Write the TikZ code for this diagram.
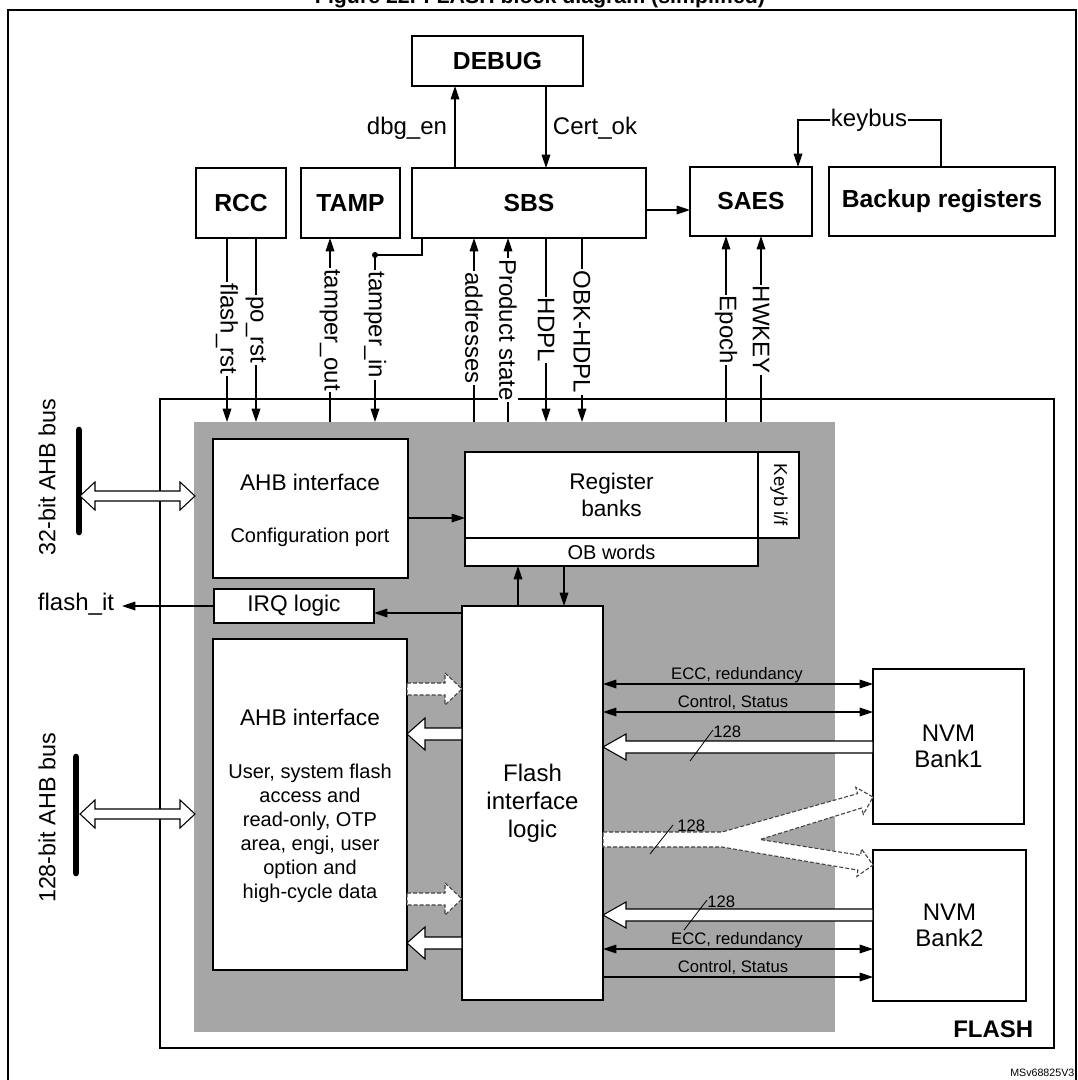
\documentclass[tikz,border=0pt]{standalone}
\usepackage{fontspec}
\setmainfont{Liberation Sans}
\usetikzlibrary{arrows.meta}
\newcommand\fs[1]{\fontsize{#1}{#1}\selectfont}
\newcommand\bx[7]{\node[box,minimum width={(#4-#2)*0.75pt},minimum height={(#5-#3)*0.75pt},#6] (#1) at ({(#2+#4)/2},{(#3+#5)/2}) {#7};}
% hollow horizontal arrow: opts, xtail, xtip, y, halfshaft, halfhead, headlen
\newcommand\HA[7]{\pgfmathsetmacro\hb{#3-#7*sign(#3-#2)}%
 \draw[harrow,#1] (#2,#4-#5) -- (\hb,#4-#5) -- (\hb,#4-#6) -- (#3,#4) -- (\hb,#4+#6) -- (\hb,#4+#5) -- (#2,#4+#5) -- cycle;}
\newcommand\DA[3]{\draw[harrow] (#1,#3) -- (#1+15,#3-14) -- (#1+15,#3-5) -- (#2-15,#3-5) -- (#2-15,#3-14) -- (#2,#3) -- (#2-15,#3+14) -- (#2-15,#3+5) -- (#1+15,#3+5) -- (#1+15,#3+14) -- cycle;}
\begin{document}
\begin{tikzpicture}[x=0.75pt,y=-0.75pt,
 box/.style={draw,line width=1.1pt,fill=white,inner sep=0,outer sep=0,align=center},
 arr/.style={line width=0.9pt,-{Triangle[length=10pt,width=6.5pt]}},
 darr/.style={line width=0.9pt,{Triangle[length=10pt,width=6.5pt]}-{Triangle[length=10pt,width=6.5pt]}},
 harrow/.style={draw,line width=0.8pt,fill=white,line join=miter},
 dsh/.style={dashed,draw=black!75,dash pattern=on 3pt off 1.5pt},
 sig/.style={fill=white,inner sep=1pt,rotate=-90,font=\fs{18}},
 lbl/.style={inner sep=1pt,font=\fs{17}},
 small/.style={inner sep=0pt,font=\fs{12.5}},
 bold/.style={font=\fs{18.5}\bfseries}]
\clip (0,0) rectangle (1077,1080);
\node[anchor=base,font=\fs{16}\bfseries] (title) at (540,4) {Figure 22. FLASH block diagram (simplified)};
\draw[line width=1.2pt] (8,1090) -- (8,10) -- (1076,10) -- (1076,1090);
% FLASH frame and grey area
\bx{flash}{160}{399}{1054}{1048}{}{}
\node[fill=black!35,minimum width={641*0.75pt},minimum height={610*0.75pt},inner sep=0,outer sep=0] (grey) at (514.5,727) {};
\node[anchor=base east,font=\fs{18}\bfseries] (flashlbl) at (1038,1037) {FLASH};
\node[anchor=base east,font=\fs{8}] (msv) at (1079,1076) {MSv68825V3};
% top blocks
\bx{debug}{412}{36}{583}{86}{bold}{DEBUG}
\bx{rcc}{196}{168}{286}{238}{bold}{RCC}
\bx{tamp}{301}{168}{400}{238}{bold}{TAMP}
\bx{sbs}{412}{168}{646}{238}{bold}{SBS}
\bx{saes}{690}{167}{812}{236}{bold}{SAES}
\bx{bkp}{829}{167}{1055}{236}{bold}{Backup registers}
% inside blocks
\bx{ahb1}{213}{439}{408}{578}{}{}
\node[lbl] (ahb1t) at (310,482) {AHB interface};
\node[lbl,font=\fs{15}] (ahb1c) at (310,537) {Configuration port};
\bx{reg}{465}{452}{758}{538}{font=\fontsize{17}{20}\selectfont}{Register\\banks}
\bx{ob}{465}{538}{758}{566}{font=\fs{15}}{OB words}
\bx{keyb}{758}{452}{799}{538}{}{}
\node[rotate=-90,font=\fs{14}] (keybt) at (779,495) {Keyb i/f};
\bx{irq}{214}{589}{374}{623}{font=\fs{17}}{IRQ logic}
\bx{ahb2}{213}{639}{407}{970}{}{}
\node[lbl] (ahb2t) at (310,717) {AHB interface};
\node[align=center,font=\fontsize{15}{18}\selectfont] (ahb2b) at (310,833) {User, system flash\\access and\\read-only, OTP\\area, engi, user\\option and\\high-cycle data};
\bx{fil}{462}{606}{603}{1000}{font=\fontsize{18}{21}\selectfont}{Flash\\interface\\logic}
\bx{nvm1}{873}{669}{1024}{824}{font=\fontsize{18}{20}\selectfont}{NVM\\Bank1}
\bx{nvm2}{873}{850}{1026}{1001}{font=\fontsize{18}{20}\selectfont}{NVM\\Bank2}
% debug links
\coordinate (dx) at (455,0); \coordinate (cx) at (546,0);
\draw[arr] (sbs.north -| dx) -- (debug.south -| dx);
\draw[arr] (debug.south -| cx) -- (sbs.north -| cx);
\node[lbl,font=\fs{18}] (dbgen) at (407,128) {dbg\_en};
\node[lbl,font=\fs{18}] (certok) at (595,128) {Cert\_ok};
\coordinate (sy) at (0,210);
\draw[arr] (sbs.east |- sy) -- (saes.west |- sy);
% keybus
\coordinate (kb1) at (941,120); \coordinate (kb2) at (798,120);
\draw[arr] (bkp.north -| kb1) -- (kb1) -- (kb2) -- (saes.north -| kb2);
\node[fill=white,inner sep=1pt,font=\fs{18}] (kbl) at (869,120) {keybus};
% vertical signals
\coordinate (g1) at (227,422); \coordinate (g2) at (256,422); \coordinate (g3) at (330,422);
\coordinate (g4) at (375,422); \coordinate (g5) at (474,422); \coordinate (g6) at (508,422);
\coordinate (g7) at (546,422); \coordinate (g8) at (582,422); \coordinate (g9) at (726,422);
\coordinate (g10) at (761,422);
\draw[arr] (rcc.south -| g1) -- (g1);
\draw[arr] (rcc.south -| g2) -- (g2);
\draw[arr] (g3) -- (tamp.south -| g3);
\coordinate (tdot) at (375,255); \coordinate (tsb) at (422,255);
\draw[line width=0.9pt] (sbs.south -| tsb) -- (tsb) -- (tdot);
\fill (tdot) circle (3);
\draw[arr] (tdot) -- (g4);
\draw[arr] (g5) -- (sbs.south -| g5);
\draw[arr] (g6) -- (sbs.south -| g6);
\draw[arr] (sbs.south -| g7) -- (g7);
\draw[arr] (sbs.south -| g8) -- (g8);
\draw[arr] (g9) -- (saes.south -| g9);
\draw[arr] (g10) -- (saes.south -| g10);
\node[sig] (l1) at (227,329) {flash\_rst};
\node[sig] (l2) at (256,330) {po\_rst};
\node[sig] (l3) at (330,330) {tamper\_out};
\node[sig] (l4) at (375,325) {tamper\_in};
\node[sig] (l5) at (474,328) {addresses};
\node[sig] (l6) at (508,330) {Product state};
\node[sig] (l7) at (546,330) {HDPL};
\node[sig] (l8) at (582,332) {OBK-HDPL};
\node[sig] (l9) at (726,330) {Epoch};
\node[sig] (l10) at (761,330) {HWKEY};
% internal links
\coordinate (a1) at (0,518);
\draw[arr] (ahb1.east |- a1) -- (reg.west |- a1);
\coordinate (u1) at (518,0); \coordinate (u2) at (564,0);
\draw[arr] (fil.north -| u1) -- (ob.south -| u1);
\draw[arr] (ob.south -| u2) -- (fil.north -| u2);
\coordinate (iq) at (0,613);
\draw[arr] (fil.west |- iq) -- (irq.east |- iq);
\coordinate (fit) at (122,606);
\draw[arr] (irq.west |- fit) -- (fit);
\node[lbl,font=\fs{18}] (flashit) at (76,604) {flash\_it};
% buses
\draw[line width=5pt,line cap=round] (79,430) -- (79,532);
\draw[line width=5pt,line cap=round] (76,757) -- (76,873);
\node[rotate=90,font=\fs{17.5}] (b32) at (47,477) {32-bit AHB bus};
\node[rotate=90,font=\fs{17.5}] (b128) at (47,818) {128-bit AHB bus};
\DA{80}{195}{496}
\DA{80}{195}{814}
% AHB2 <-> FIL
\HA{dsh}{407}{462}{689}{6}{16}{17}
\HA{}{462}{407}{734}{6}{16}{18}
\HA{dsh}{407}{462}{899}{6}{16}{17}
\HA{}{462}{407}{943}{6}{16}{18}
% FIL <-> NVM
\coordinate (e1) at (0,684); \coordinate (c1) at (0,712);
\draw[darr] (fil.east |- e1) -- (nvm1.west |- e1);
\draw[darr] (fil.east |- c1) -- (nvm1.west |- c1);
\node[small] (e1l) at (737,675) {ECC, redundancy};
\node[small] (c1l) at (733,703) {Control, Status};
\HA{}{873}{603}{747}{6}{13}{23}
\draw[line width=0.6pt] (690,761) -- (713,730);
\node[small,anchor=west] (n1) at (713,732) {128};
\coordinate (e2) at (0,949); \coordinate (c2) at (0,977);
\HA{}{873}{603}{915}{6}{13}{23}
\draw[line width=0.6pt] (684,930) -- (707,900);
\node[small,anchor=west] (n2) at (707,902) {128};
\draw[darr] (fil.east |- e2) -- (nvm2.west |- e2);
\draw[arr] (fil.east |- c2) -- (nvm2.west |- c2);
\node[small] (e2l) at (737,940) {ECC, redundancy};
\node[small] (c2l) at (733,968) {Control, Status};
% split write bus
\draw[harrow,dsh] (603,832) -- (722,832) -- (857.5,793.6) -- (855.7,787.3) -- (873,797) -- (863.3,814.3) -- (861.5,808.0) -- (760,839.5) -- (860.5,855.3) -- (861.5,848.9) -- (873,865) -- (856.9,876.5) -- (857.9,870.1) -- (722,847) -- (603,847) -- cycle;
\draw[line width=0.6pt] (650,854) -- (673,825);
\node[small,anchor=west] (n3) at (677,826) {128};
\end{tikzpicture}
\end{document}
